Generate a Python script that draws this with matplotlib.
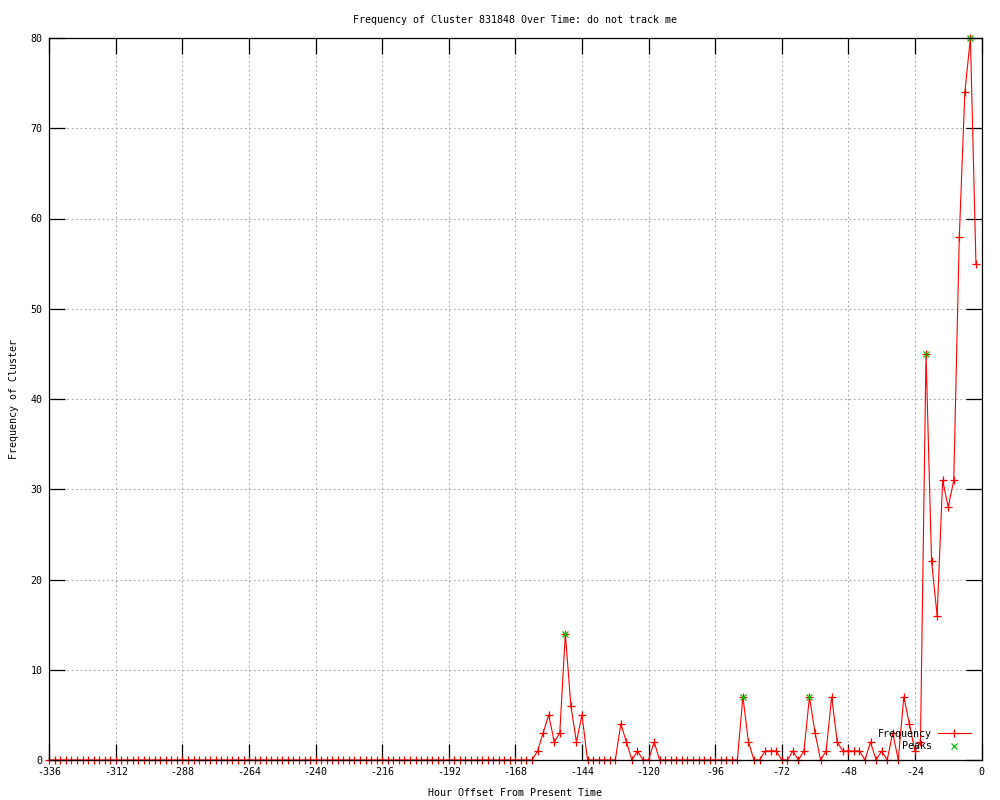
import matplotlib
matplotlib.use("Agg")
import matplotlib.pyplot as plt
from matplotlib.lines import Line2D

# Hours (every 2 hours) and non-zero frequencies
hours = list(range(-336, 0, 2))
nonzero = {
    -160: 1, -158: 3, -156: 5, -154: 2, -152: 3, -150: 14, -148: 6, -146: 2, -144: 5,
    -130: 4, -128: 2, -124: 1, -118: 2,
    -86: 7, -84: 2, -78: 1, -76: 1, -74: 1,
    -68: 1, -64: 1, -62: 7, -60: 3, -56: 1, -54: 7, -52: 2, -50: 1, -48: 1, -46: 1, -44: 1,
    -40: 2, -36: 1, -32: 3, -28: 7, -26: 4, -24: 1, -22: 2,
    -20: 45, -18: 22, -16: 16, -14: 31, -12: 28, -10: 31, -8: 58, -6: 74, -4: 80, -2: 55,
}
freq = [nonzero.get(h, 0) for h in hours]
peak_hours = [-150, -86, -62, -20, -4]
peak_vals = [nonzero[h] for h in peak_hours]

xticks = list(range(-336, 1, 24))
yticks = list(range(0, 81, 10))

plt.rcParams['font.family'] = ['DejaVu Sans Mono']
plt.rcParams['axes.unicode_minus'] = False
fs = 7.2

fig = plt.figure(figsize=(10, 8), dpi=100)
ax = fig.add_axes([0.0493, 0.05, 0.9322, 0.9025])

ax.plot(hours, freq, color='#ff0000', lw=0.8, marker='+', ms=6.3, mew=0.9,
        clip_on=False, zorder=3, label='Frequency')
ax.plot(peak_hours, peak_vals, ls='none', marker='x', color='#00c000', ms=5, mew=0.9,
        clip_on=False, zorder=4, label='Peaks')

ax.set_xlim(-336, 0)
ax.set_ylim(0, 80)
ax.set_xticks(xticks)
ax.set_yticks(yticks)
ax.tick_params(direction='in', length=11.5, width=0.9, top=True, right=True,
               labelsize=fs, pad=5)
ax.grid(True, color='#a8a8a8', ls=(0, (1.5, 2.5)), lw=0.8)
ax.set_axisbelow(True)
for s in ax.spines.values():
    s.set_linewidth(0.9)
    s.set_zorder(5)

ax.set_title('Frequency of Cluster 831848 Over Time: do not track me', fontsize=fs, pad=11)
ax.set_xlabel('Hour Offset From Present Time', fontsize=fs, labelpad=8)
ax.set_ylabel('Frequency of Cluster', fontsize=fs, labelpad=8)

handles = [Line2D([], [], color='#ff0000', lw=0.8, marker='+', ms=6.3, mew=0.9),
           Line2D([], [], ls='none', color='#00c000', marker='x', ms=5, mew=0.9)]
leg = ax.legend(handles, ['Frequency', 'Peaks'], loc='lower right',
                bbox_to_anchor=(0.995, 0.004), frameon=False, markerfirst=False,
                fontsize=fs, handlelength=3.3, handletextpad=0.6, labelspacing=0.25,
                borderaxespad=0.2)
for t in leg.get_texts():
    t.set_ha('right')

fig.savefig('out.png', dpi=100)
